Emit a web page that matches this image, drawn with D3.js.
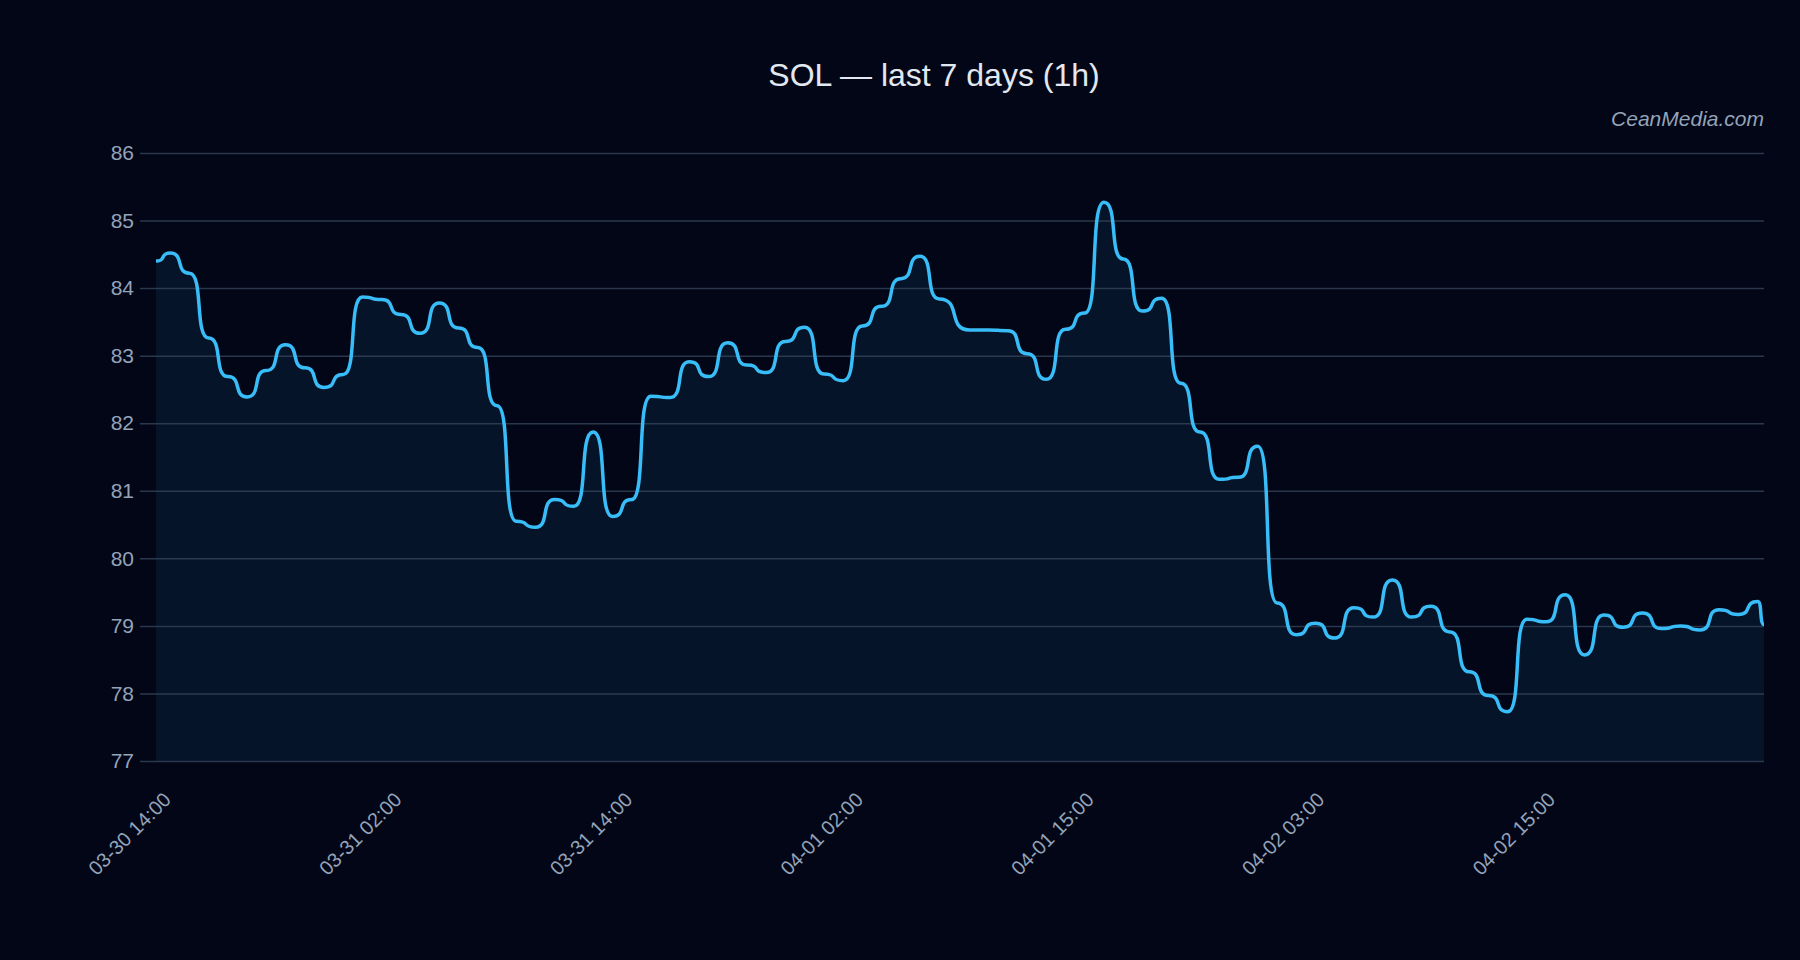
<!DOCTYPE html>
<html>
<head>
<meta charset="utf-8">
<script src="https://cdn.jsdelivr.net/npm/d3@7"></script>
<style>
  html, body { margin: 0; padding: 0; background: #020617; }
  svg { display: block; font-family: "Liberation Sans", Arial, sans-serif; }
</style>
</head>
<body>
<div id="chart"></div>
<script>
// SOL hourly closes
const prices = [
  84.40, 84.52, 84.22, 83.26, 82.69, 82.39, 82.78, 83.16, 82.82, 82.53,
  82.72, 83.87, 83.83, 83.61, 83.33, 83.78, 83.41, 83.12, 82.26, 80.55,
  80.46, 80.87, 80.77, 81.87, 80.62, 80.87, 82.40, 82.38, 82.91, 82.69,
  83.19, 82.86, 82.75, 83.21, 83.42, 82.73, 82.63, 83.44, 83.73, 84.14,
  84.47, 83.84, 83.38, 83.38, 83.37, 83.03, 82.65, 83.39, 83.63, 85.27,
  84.43, 83.66, 83.85, 82.59, 81.87, 81.17, 81.20, 81.66, 79.34, 78.87,
  79.04, 78.82, 79.27, 79.13, 79.68, 79.13, 79.29, 78.91, 78.32, 77.97,
  77.73, 79.10, 79.06, 79.46, 78.57, 79.16, 78.98, 79.19, 78.96, 79.00,
  78.94, 79.24, 79.17, 79.36, 79.02
];

// sample times, hours after 03-30 13:00 (timestamps are not exactly on the hour)
const hours = [
  0.26, 1, 2, 3, 4, 5, 6, 7, 8, 9,
  10, 11, 12, 13, 14, 15, 16, 17, 18, 19,
  20, 21, 22, 23, 24, 25, 26, 27, 28, 29,
  30, 31, 32, 33, 34, 35, 36, 37, 38, 39,
  40, 41, 42.57, 43.57, 44.57, 45.57, 46.57, 47.57, 48.57, 49.57,
  50.57, 51.57, 52.57, 53.57, 54.57, 55.57, 56.57, 57.57, 58.57, 59.57,
  60.57, 61.57, 62.57, 63.57, 64.57, 65.57, 66.57, 67.57, 68.57, 69.57,
  70.57, 71.57, 72.57, 73.57, 74.57, 75.57, 76.57, 77.57, 78.57, 79.57,
  80.57, 81.57, 82.57, 83.57, 83.9
];

const tickHours = [1, 13, 25, 37, 49, 61, 73];
const tickLabels = ["03-30 14:00", "03-31 02:00", "03-31 14:00", "04-01 02:00",
                    "04-01 15:00", "04-02 03:00", "04-02 15:00"];
const yTicks = [77, 78, 79, 80, 81, 82, 83, 84, 85, 86];

const width = 1800, height = 960;
const margin = { top: 153, right: 36, bottom: 199, left: 156 };
const innerW = width - margin.left - margin.right;

const data = prices.map((p, i) => ({ t: hours[i], v: p }));

// bump-style curve with flatter shoulders than d3.curveBumpX
function curveFlatBump(context) {
  const k = 0.75;
  let line, point, x0, y0;
  return {
    areaStart() { line = 0; },
    areaEnd() { line = NaN; },
    lineStart() { point = 0; },
    lineEnd() {
      if (line || (line !== 0 && point === 1)) context.closePath();
      line = 1 - line;
    },
    point(x, y) {
      x = +x; y = +y;
      if (point === 0) {
        point = 1;
        if (line) context.lineTo(x, y); else context.moveTo(x, y);
      } else {
        point = 2;
        const dx = x - x0;
        context.bezierCurveTo(x0 + k * dx, y0, x - k * dx, y, x, y);
      }
      x0 = x; y0 = y;
    }
  };
}

const svg = d3.select("#chart").append("svg")
  .attr("width", width)
  .attr("height", height);

svg.append("rect")
  .attr("width", width)
  .attr("height", height)
  .attr("fill", "#020617");

const x = d3.scaleLinear()
  .domain(d3.extent(hours))
  .range([margin.left, width - margin.right]);

const y = d3.scaleLinear()
  .domain([d3.min(yTicks), d3.max(yTicks)])
  .range([height - margin.bottom, margin.top]);

// area under the line
const area = d3.area()
  .curve(curveFlatBump)
  .x(d => x(d.t))
  .y0(y(77))
  .y1(d => y(d.v));

svg.append("path")
  .datum(data)
  .attr("fill", "rgba(56,189,248,0.08)")
  .attr("d", area);

// y axis + grid
const yAxis = svg.append("g")
  .attr("transform", `translate(${margin.left - 16},0)`)
  .call(d3.axisLeft(y)
    .tickValues(yTicks)
    .tickSize(-(innerW + 16))
    .tickPadding(6)
    .tickFormat(d3.format("d")));

yAxis.select(".domain").remove();
yAxis.selectAll(".tick line")
  .attr("stroke", "#334155")
  .attr("stroke-opacity", 0.85)
  .attr("stroke-width", 1.5);
yAxis.selectAll(".tick text")
  .attr("fill", "#94a3b8")
  .style("font-size", "21px")
  .style("font-family", "'Liberation Sans', Arial, sans-serif");

// price line
const line = d3.line()
  .curve(curveFlatBump)
  .x(d => x(d.t))
  .y(d => y(d.v));

svg.append("path")
  .datum(data)
  .attr("fill", "none")
  .attr("stroke", "#38bdf8")
  .attr("stroke-width", 3.5)
  .attr("stroke-linejoin", "round")
  .attr("d", line);

// x labels, rotated
svg.append("g")
  .selectAll("text")
  .data(tickHours)
  .join("text")
  .attr("transform", d => `translate(${x(d) + 2},${height - margin.bottom + 40}) rotate(-45)`)
  .attr("text-anchor", "end")
  .attr("fill", "#94a3b8")
  .style("font-size", "20px")
  .text((d, i) => tickLabels[i]);

// title
svg.append("text")
  .attr("x", 934)
  .attr("y", 86)
  .attr("text-anchor", "middle")
  .attr("fill", "#e2e8f0")
  .style("font-size", "32px")
  .text("SOL \u2014 last 7 days (1h)");

// watermark
svg.append("text")
  .attr("x", width - margin.right)
  .attr("y", 126)
  .attr("text-anchor", "end")
  .attr("fill", "#94a3b8")
  .style("font-size", "21px")
  .style("font-style", "italic")
  .text("CeanMedia.com");
</script>
</body>
</html>
